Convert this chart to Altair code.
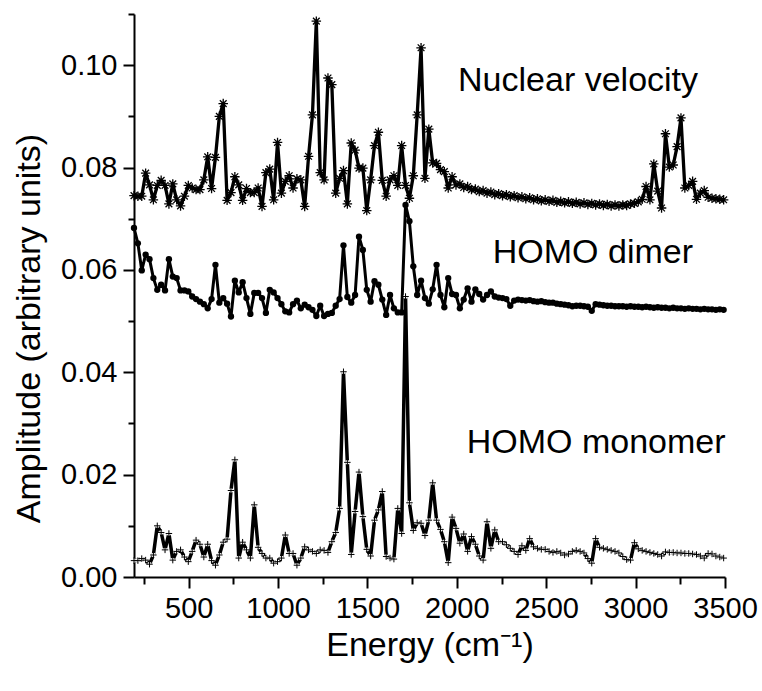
import altair as alt
import pandas as pd

# energy grid of the spectra (cm^-1): first sample and spacing
E_START = 194.0
E_STEP = 21.7

NUCLEAR = [
    0.0745, 0.0744, 0.0744, 0.0789, 0.0766, 0.0737, 0.0765, 0.0775, 0.0765, 0.0729,
    0.0768, 0.0737, 0.0725, 0.0744, 0.0765, 0.0760, 0.0757, 0.0757, 0.0776, 0.0821,
    0.0759, 0.0820, 0.0900, 0.0925, 0.0736, 0.0751, 0.0782, 0.0766, 0.0736, 0.0759,
    0.0751, 0.0751, 0.0760, 0.0724, 0.0790, 0.0797, 0.0737, 0.0849, 0.0750, 0.0773,
    0.0784, 0.0760, 0.0778, 0.0776, 0.0724, 0.0822, 0.0903, 0.1086, 0.0790, 0.0776,
    0.0975, 0.0962, 0.0750, 0.0779, 0.0794, 0.0729, 0.0848, 0.0834, 0.0799, 0.0799,
    0.0716, 0.0776, 0.0843, 0.0869, 0.0775, 0.0744, 0.0776, 0.0784, 0.0765, 0.0843,
    0.0765, 0.0740, 0.0784, 0.0903, 0.1034, 0.0779, 0.0875, 0.0809, 0.0808, 0.0796,
    0.0792, 0.0760,
    0.0782, 0.0766, 0.0768, 0.0761, 0.0763, 0.0757, 0.0758, 0.0753, 0.0755, 0.0750,
    0.0752, 0.0747, 0.0749, 0.0745, 0.0747, 0.0743, 0.0745, 0.0741, 0.0743, 0.0739,
    0.0741, 0.0737, 0.0739, 0.0735, 0.0737, 0.0734, 0.0736, 0.0732, 0.0734, 0.0731,
    0.0733, 0.0730, 0.0732, 0.0729, 0.0731, 0.0728, 0.0730, 0.0727, 0.0729, 0.0726,
    0.0728, 0.0725, 0.0727, 0.0725, 0.0727, 0.0726, 0.0729, 0.0730,
    0.0733, 0.0738, 0.0763, 0.0737, 0.0807, 0.0754, 0.0721, 0.0866, 0.0801, 0.0805,
    0.0841, 0.0897, 0.0760, 0.0765, 0.0773, 0.0738, 0.0750, 0.0755, 0.0742, 0.0740,
    0.0739, 0.0738, 0.0737,
]

DIMER = [
    0.0682, 0.0652, 0.0599, 0.0630, 0.0621, 0.0584, 0.0561, 0.0571, 0.0560, 0.0621,
    0.0587, 0.0584, 0.0560, 0.0560, 0.0558, 0.0548, 0.0543, 0.0538, 0.0533, 0.0525,
    0.0543, 0.0610, 0.0536, 0.0545, 0.0534, 0.0509, 0.0579, 0.0556, 0.0576, 0.0545,
    0.0514, 0.0555, 0.0555, 0.0545, 0.0516, 0.0561, 0.0556, 0.0545, 0.0533, 0.0519,
    0.0517, 0.0533, 0.0540, 0.0525, 0.0532, 0.0527, 0.0522, 0.0510, 0.0530, 0.0510,
    0.0514, 0.0516, 0.0530, 0.0543, 0.0648, 0.0547, 0.0536, 0.0551, 0.0665, 0.0639,
    0.0561, 0.0538, 0.0578, 0.0571, 0.0542, 0.0512, 0.0551, 0.0525, 0.0517, 0.0517,
    0.0727, 0.0695, 0.0607, 0.0551, 0.0579, 0.0545, 0.0534, 0.0562, 0.0610, 0.0551,
    0.0527, 0.0584,
    0.0553, 0.0551, 0.0525, 0.0542, 0.0564, 0.0538, 0.0562, 0.0553, 0.0542, 0.0551,
    0.0558, 0.0548, 0.0546, 0.0545, 0.0543, 0.0530, 0.0540, 0.0542, 0.0541, 0.0540,
    0.0541, 0.0539, 0.0538, 0.0539, 0.0537, 0.0536, 0.0536, 0.0534, 0.0533, 0.0532,
    0.0531, 0.0529, 0.0530, 0.0530, 0.0529, 0.0528, 0.0520, 0.0533, 0.0532, 0.0531,
    0.0530, 0.0530, 0.0529, 0.0529,
    0.0529, 0.0528, 0.0529, 0.0528, 0.0528, 0.0527, 0.0528, 0.0527, 0.0526, 0.0527,
    0.0526, 0.0526, 0.0525, 0.0526, 0.0525, 0.0525, 0.0524, 0.0525, 0.0524, 0.0524,
    0.0523, 0.0524, 0.0523, 0.0523, 0.0522, 0.0523, 0.0522,
]

MONOMER = [
    0.0032, 0.0032, 0.0036, 0.0033, 0.0025, 0.0043, 0.0100, 0.0087, 0.0053, 0.0085,
    0.0033, 0.0050, 0.0053, 0.0039, 0.0030, 0.0050, 0.0072, 0.0064, 0.0039, 0.0064,
    0.0032, 0.0023, 0.0043, 0.0068, 0.0074, 0.0169, 0.0229, 0.0037, 0.0068, 0.0053,
    0.0037, 0.0141, 0.0058, 0.0046, 0.0037, 0.0037, 0.0027, 0.0030, 0.0037, 0.0082,
    0.0046, 0.0046, 0.0023, 0.0037, 0.0059, 0.0053, 0.0050, 0.0046, 0.0053, 0.0052,
    0.0048, 0.0069, 0.0087, 0.0134, 0.0401, 0.0224, 0.0044, 0.0128, 0.0205, 0.0118,
    0.0054, 0.0041, 0.0111, 0.0131, 0.0167, 0.0040, 0.0037, 0.0035, 0.0134, 0.0085,
    0.0548, 0.0145, 0.0091, 0.0106, 0.0105, 0.0081, 0.0111, 0.0184, 0.0111, 0.0093,
    0.0069, 0.0028,
    0.0117, 0.0095, 0.0066, 0.0084, 0.0050, 0.0079, 0.0064, 0.0041, 0.0033, 0.0108,
    0.0056, 0.0092, 0.0069, 0.0069, 0.0063, 0.0056, 0.0050, 0.0044, 0.0061, 0.0052,
    0.0075,
    0.0059, 0.0056, 0.0054, 0.0054, 0.0050, 0.0048, 0.0050, 0.0047, 0.0043, 0.0045,
    0.0050, 0.0052, 0.0050, 0.0047, 0.0036, 0.0027, 0.0075, 0.0058, 0.0056, 0.0054,
    0.0052, 0.0050, 0.0047, 0.0040, 0.0034, 0.0033, 0.0067, 0.0055, 0.0052, 0.0050,
    0.0048, 0.0046, 0.0044, 0.0041, 0.0049, 0.0048, 0.0048, 0.0047, 0.0047, 0.0046,
    0.0046, 0.0045, 0.0044, 0.0041, 0.0037, 0.0046, 0.0045, 0.0041, 0.0039, 0.0037,
]

LABEL_TEXT = ["Nuclear velocity", "HOMO dimer", "HOMO monomer"]
LABEL_ENERGY = [2678, 2761, 2779]
LABEL_VALUE = [0.0949, 0.0613, 0.0242]

X_TICKS = [250, 500, 750, 1000, 1250, 1500, 1750, 2000, 2250, 2500, 2750, 3000, 3250, 3500]
Y_TICKS = [0.0, 0.01, 0.02, 0.03, 0.04, 0.05, 0.06, 0.07, 0.08, 0.09, 0.10, 0.11]

FONT = "Liberation Sans"


def frame(values):
    return pd.DataFrame({
        "energy": [E_START + E_STEP * k for k in range(len(values))],
        "value": values,
    })


df_nuc = frame(NUCLEAR)
df_dim = frame(DIMER)
df_mono = frame(MONOMER)
df_lab = pd.DataFrame({"energy": LABEL_ENERGY, "value": LABEL_VALUE, "text": LABEL_TEXT})

x_axis = alt.Axis(
    values=X_TICKS,
    format="d",
    labelExpr="datum.value % 500 === 0 ? datum.label : ''",
    tickSize={"condition": {"test": "datum.value % 500 === 0", "value": 11}, "value": 7},
    labelOverlap=False,
    labelFlush=False,
    grid=False,
    domainColor="black",
    domainWidth=2,
    tickColor="black",
    tickWidth=2,
    labelFont=FONT,
    labelFontSize=29,
    labelColor="black",
    labelPadding=6,
    title="Energy (cm⁻¹)",
    titleFont=FONT,
    titleFontSize=34,
    titleFontWeight="normal",
    titleColor="black",
    titleX=295.5,
    titleY=78,
    titleAlign="center",
    titleBaseline="alphabetic",
)

y_axis = alt.Axis(
    values=Y_TICKS,
    format=".2f",
    labelExpr="round(datum.value * 100) % 2 === 0 ? datum.label : ''",
    tickSize={"condition": {"test": "round(datum.value * 100) % 2 === 0", "value": 11}, "value": 6},
    labelOverlap=False,
    labelFlush=False,
    grid=False,
    domainColor="black",
    domainWidth=2,
    tickColor="black",
    tickWidth=2,
    labelFont=FONT,
    labelFontSize=29,
    labelColor="black",
    labelPadding=6,
    title="Amplitude (arbitrary units)",
    titleFont=FONT,
    titleFontSize=34,
    titleFontWeight="normal",
    titleColor="black",
    titleAngle=270,
    titleX=-95,
    titleY=314,
    titleAlign="center",
    titleBaseline="alphabetic",
)

x_enc = alt.X("energy:Q", scale=alt.Scale(domain=[194, 3500], nice=False, zero=False), axis=x_axis)
y_enc = alt.Y("value:Q", scale=alt.Scale(domain=[0, 0.11], nice=False, zero=False), axis=y_axis)

STAR = "M-1,0L1,0M0,-1L0,1M-0.71,-0.71L0.71,0.71M-0.71,0.71L0.71,-0.71"
PLUS = "M-1,0L1,0M0,-1L0,1"

dim_line = alt.Chart(df_dim).mark_line(color="black", strokeWidth=3, strokeJoin="round").encode(x=x_enc, y=y_enc)
dim_pts = alt.Chart(df_dim).mark_point(shape="circle", filled=True, color="black", size=40, opacity=1).encode(x=x_enc, y=y_enc)

mono_line = alt.Chart(df_mono).mark_line(color="black", strokeWidth=3.5, strokeJoin="round").encode(x=x_enc, y=y_enc)
mono_gap = alt.Chart(df_mono).mark_point(shape="circle", filled=True, color="white", size=20, opacity=1).encode(x=x_enc, y=y_enc)
mono_pts = alt.Chart(df_mono).mark_point(shape=PLUS, filled=False, color="black", strokeWidth=1, size=42, opacity=1).encode(x=x_enc, y=y_enc)

nuc_line = alt.Chart(df_nuc).mark_line(color="black", strokeWidth=3.3, strokeJoin="round").encode(x=x_enc, y=y_enc)
nuc_pts = alt.Chart(df_nuc).mark_point(shape=STAR, filled=False, color="black", strokeWidth=1.3, size=90, opacity=1).encode(x=x_enc, y=y_enc)

labels = alt.Chart(df_lab).mark_text(
    font=FONT, fontSize=34, color="black", align="center", baseline="alphabetic"
).encode(x=x_enc, y=y_enc, text="text:N")

chart = alt.layer(
    dim_line, dim_pts, mono_line, mono_gap, mono_pts, nuc_line, nuc_pts, labels
).properties(
    width=591,
    height=563,
    autosize=alt.AutoSizeParams(type="none"),
    padding={"left": 134, "top": 14, "right": 37, "bottom": 114},
).configure_view(stroke=None)

chart.save("out.html", embed_options={"renderer": "svg", "actions": False})
